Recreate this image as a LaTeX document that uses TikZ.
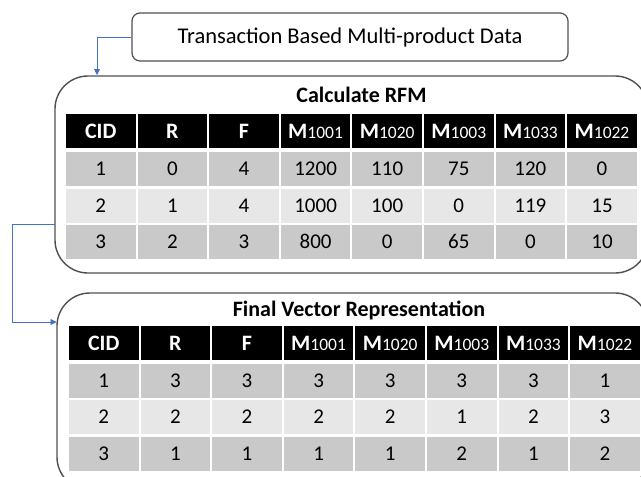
\documentclass[tikz,border=0pt]{standalone}
\usepackage{fontspec}
\setmainfont{Carlito}[Numbers=Lining]
\usetikzlibrary{arrows.meta,calc}
\definecolor{rowdark}{RGB}{201,201,201}
\definecolor{rowlight}{RGB}{231,231,231}
\definecolor{boxline}{RGB}{80,80,80}
\definecolor{arrowblue}{RGB}{68,114,196}
\newcommand\mhead[1]{M{\mdseries\fontsize{17.5}{17.5}\selectfont #1}}
\newcommand\drawrow[6]{\foreach \v [count=\c from 0] in {#6} {\node[#4] (#1-#2-\c) at ({#5+71.6*(\c+0.5)},#3) {\v};}}
\begin{document}
\begin{tikzpicture}[x=1pt,y=-1pt,
  topbox/.style={draw=boxline, line width=1.2pt, rounded corners=8pt, fill=white, inner sep=0pt,
    minimum width=436pt, minimum height=48pt, font=\fontsize{22.5}{22.5}\selectfont},
  bigbox/.style={draw=boxline, line width=1.4pt, rounded corners=33pt, inner sep=0pt},
  tabcell/.style={minimum width=69.6pt, minimum height=34pt, inner sep=0pt, outer sep=0pt, text depth=0pt},
  hdr/.style={tabcell, fill=black, text=white, text height=14.2pt, font=\bfseries\fontsize{22}{22}\selectfont},
  cellA/.style={tabcell, fill=rowdark, text height=13.3pt, font=\fontsize{21}{21}\selectfont},
  cellB/.style={tabcell, fill=rowlight, text height=13.3pt, font=\fontsize{21}{21}\selectfont},
  titletext/.style={font=\bfseries\fontsize{22}{22}\selectfont, inner sep=0pt},
  arr/.style={draw=arrowblue, line width=0.9pt, -{Triangle[length=6pt,width=6pt]}}
]
\useasboundingbox (0,0) rectangle (641,477);
% boxes
\node[topbox] (top) at (350,37) {Transaction Based Multi-product Data};
\node[bigbox, minimum width=593pt, minimum height=197pt] (box1) at (351.5,174.5) {};
\node[bigbox, minimum width=591pt, minimum height=197pt] (box2) at (352.5,391.5) {};
\node[titletext] (t1) at (361.5,95) {Calculate RFM};
\node[titletext] (t2) at (359,310) {Final Vector Representation};
% table 1
\drawrow{ta}{0}{131}{hdr}{65}{CID,R,F,\mhead{1001},\mhead{1020},\mhead{1003},\mhead{1033},\mhead{1022}}
\drawrow{ta}{1}{169}{cellA}{65}{1,0,4,1200,110,75,120,0}
\drawrow{ta}{2}{205.5}{cellB}{65}{2,1,4,1000,100,0,119,15}
\drawrow{ta}{3}{242}{cellA}{65}{3,2,3,800,0,65,0,10}
% table 2
\drawrow{tb}{0}{343}{hdr}{68}{CID,R,F,\mhead{1001},\mhead{1020},\mhead{1003},\mhead{1033},\mhead{1022}}
\drawrow{tb}{1}{381}{cellA}{68}{1,3,3,3,3,3,3,1}
\drawrow{tb}{2}{417}{cellB}{68}{2,2,2,2,2,1,2,3}
\drawrow{tb}{3}{453.5}{cellA}{68}{3,1,1,1,1,2,1,2}
% connectors
\coordinate (a1) at (97,75);
\draw[arr] (top.west) -| (a1);
\coordinate (c1) at (55,224);
\coordinate (bend) at (12,224);
\coordinate (c2) at (56.5,322);
\draw[arr] (c1) -- (bend) |- (c2);
\end{tikzpicture}
\end{document}
